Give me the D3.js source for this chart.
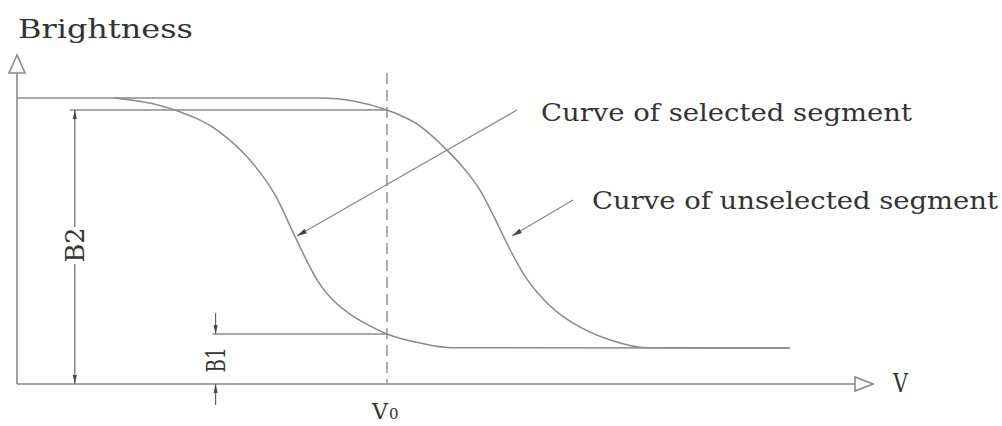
<!doctype html>
<html>
<head>
<meta charset="UTF-8">
<title>brightness curves</title>
<script src="https://d3js.org/d3.v7.min.js"></script>
<style>
  body{ margin:0; background:#fff; }
  text{ font-family:"DejaVu Serif", serif; fill:#333; }
</style>
</head>
<body>
<svg id="chart" width="1002" height="426"></svg>
<script>
// voltage (0-100) vs brightness (0-100)
var selV = [11.7, 18.85, 24.2, 27.8, 30.8, 33.2, 34.4, 35.8, 37.35, 39.7, 42.1, 44.15, 48.1, 51.7, 92.2];
var selB = [100, 95.8, 88.1, 78.3, 66.1, 51.4, 44.1, 36.4, 30.4, 24.5, 20.3, 17.5, 14.3, 12.7, 12.6];

var unsV = [0, 36.4, 40.3, 44.15, 48.1, 51.3, 53.5, 55.25, 57.0, 58.8, 60.6, 63.25, 65.4, 67.2, 70.8, 75.2, 92.2];
var unsB = [100, 100, 98.9, 95.8, 90.2, 81.8, 74.8, 67.8, 58.0, 47.2, 37.8, 28.3, 23.1, 19.9, 15.4, 12.7, 12.6];

var V0 = 44.15;  // dashed voltage marker
var B2 = 95.8;
var B1 = 17.5;
var axisLabels = ["Brightness", "V"];
var curveLabels = ["Curve of selected segment", "Curve of unselected segment"];

var svg = d3.select("#chart");
var x = d3.scaleLinear().domain([0, 100]).range([17, 855]);
var y = d3.scaleLinear().domain([0, 100]).range([384, 98]);

var stroke = "#8a8a8a";

// axes
svg.append("line").attr("x1", x(0)).attr("y1", y(0)).attr("x2", x(0)).attr("y2", 73)
  .attr("stroke", stroke).attr("stroke-width", 1.6);
svg.append("line").attr("x1", x(0)).attr("y1", y(0)).attr("x2", x(100)).attr("y2", y(0))
  .attr("stroke", stroke).attr("stroke-width", 1.6);
// hollow arrowheads
svg.append("path").attr("d", "M" + x(0) + ",55 L" + (x(0) - 8) + ",73 L" + (x(0) + 8) + ",73 Z")
  .attr("fill", "#fff").attr("stroke", stroke).attr("stroke-width", 1.6);
svg.append("path").attr("d", "M" + (x(100) + 18) + "," + y(0) + " L" + x(100) + "," + (y(0) - 7) + " L" + x(100) + "," + (y(0) + 7) + " Z")
  .attr("fill", "#fff").attr("stroke", stroke).attr("stroke-width", 1.6);

svg.append("text").attr("x", 18).attr("y", 38).attr("font-size", 26)
  .attr("textLength", 175).attr("lengthAdjust", "spacingAndGlyphs").text(axisLabels[0]);
svg.append("text").attr("x", 893).attr("y", 392).attr("font-size", 26)
  .attr("textLength", 15).attr("lengthAdjust", "spacingAndGlyphs").text(axisLabels[1]);

// dashed V0 line
svg.append("line").attr("x1", x(V0)).attr("y1", 73).attr("x2", x(V0)).attr("y2", y(0))
  .attr("stroke", "#9a9a9a").attr("stroke-width", 1.6).attr("stroke-dasharray", "11,6");
var v0 = svg.append("text").attr("x", 372).attr("y", 419).attr("font-size", 23);
v0.append("tspan").attr("textLength", 16).attr("lengthAdjust", "spacingAndGlyphs").text("V");
v0.append("tspan").attr("font-size", 15).attr("dx", 1).text("0");

// curves
var line = d3.line().x(function(d){ return x(d[0]); }).y(function(d){ return y(d[1]); })
  .curve(d3.curveMonotoneX);
var sel = d3.zip(selV, selB), uns = d3.zip(unsV, unsB);
svg.selectAll("path.curve").data([uns, sel]).enter().append("path")
  .attr("class", "curve").attr("d", line)
  .attr("fill", "none").attr("stroke", stroke).attr("stroke-width", 1.5);

// level lines B2 / B1
var b2x = 6.9, b1x = 23.7;
svg.append("line").attr("x1", x(b2x) - 5).attr("y1", y(B2)).attr("x2", x(V0)).attr("y2", y(B2))
  .attr("stroke", stroke).attr("stroke-width", 1.5);
svg.append("line").attr("x1", x(b1x) - 3).attr("y1", y(B1)).attr("x2", x(V0)).attr("y2", y(B1))
  .attr("stroke", stroke).attr("stroke-width", 1.5);

function arrowHead(tx, ty, fx, fy, len, w){
  var a = Math.atan2(ty - fy, tx - fx);
  var bx = tx - len * Math.cos(a), by = ty - len * Math.sin(a);
  var px = -Math.sin(a) * w, py = Math.cos(a) * w;
  svg.append("path").attr("d", "M" + tx + "," + ty + " L" + (bx + px) + "," + (by + py) + " L" + (bx - px) + "," + (by - py) + " Z")
    .attr("fill", "#444").attr("stroke", "none");
}

// B2 dimension
svg.append("line").attr("x1", x(b2x)).attr("y1", y(B2)).attr("x2", x(b2x)).attr("y2", y(0))
  .attr("stroke", "#666").attr("stroke-width", 1.2);
arrowHead(x(b2x), y(B2), x(b2x), y(B2) + 10, 9, 2);
arrowHead(x(b2x), y(0), x(b2x), y(0) - 10, 9, 2);
svg.append("rect").attr("x", x(b2x) - 13).attr("y", 227).attr("width", 26).attr("height", 37).attr("fill", "#fff");
svg.append("text").attr("transform", "translate(" + (x(b2x) + 9) + ",245) rotate(-90)")
  .attr("text-anchor", "middle").attr("font-size", 26)
  .attr("textLength", 35).attr("lengthAdjust", "spacingAndGlyphs").text("B2");

// B1 dimension (arrows from outside)
svg.append("line").attr("x1", x(b1x)).attr("y1", y(B1) - 21).attr("x2", x(b1x)).attr("y2", y(B1))
  .attr("stroke", "#666").attr("stroke-width", 1.2);
arrowHead(x(b1x), y(B1), x(b1x), y(B1) - 10, 9, 2);
svg.append("line").attr("x1", x(b1x)).attr("y1", y(0) + 21).attr("x2", x(b1x)).attr("y2", y(0))
  .attr("stroke", "#666").attr("stroke-width", 1.2);
arrowHead(x(b1x), y(0), x(b1x), y(0) + 10, 9, 2);
svg.append("text").attr("transform", "translate(" + (x(b1x) + 9) + "," + ((y(B1) + y(0)) / 2 + 1) + ") rotate(-90)")
  .attr("text-anchor", "middle").attr("font-size", 26)
  .attr("textLength", 25).attr("lengthAdjust", "spacingAndGlyphs").text("B1");

// leader arrows + labels
svg.append("line").attr("x1", 517).attr("y1", 110).attr("x2", 297).attr("y2", 236)
  .attr("stroke", stroke).attr("stroke-width", 1.3);
arrowHead(297, 236, 517, 110, 10, 2.5);
svg.append("line").attr("x1", 573).attr("y1", 200).attr("x2", 512).attr("y2", 236)
  .attr("stroke", stroke).attr("stroke-width", 1.3);
arrowHead(512, 236, 573, 200, 10, 2.5);

svg.append("text").attr("x", 541).attr("y", 121).attr("font-size", 24)
  .attr("textLength", 371).attr("lengthAdjust", "spacingAndGlyphs").text(curveLabels[0]);
svg.append("text").attr("x", 592).attr("y", 209).attr("font-size", 24)
  .attr("textLength", 406).attr("lengthAdjust", "spacingAndGlyphs").text(curveLabels[1]);
</script>
</body>
</html>
